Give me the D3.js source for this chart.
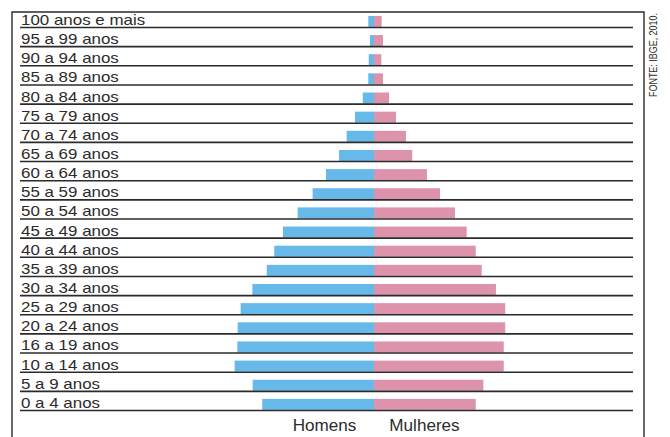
<!DOCTYPE html>
<html>
<head>
<meta charset="utf-8">
<script src="https://cdn.jsdelivr.net/npm/d3@7"></script>
<style>
  html, body { margin: 0; padding: 0; background: #fff; }
  svg { display: block; font-family: "Liberation Sans", Arial, Helvetica, sans-serif; }
</style>
</head>
<body>
<svg id="chart" width="670" height="437"></svg>
<script>
// Faixas etárias, da mais velha (topo) para a mais nova (base)
const faixas = [
  "100 anos e mais", "95 a 99 anos", "90 a 94 anos", "85 a 89 anos",
  "80 a 84 anos", "75 a 79 anos", "70 a 74 anos", "65 a 69 anos",
  "60 a 64 anos", "55 a 59 anos", "50 a 54 anos", "45 a 49 anos",
  "40 a 44 anos", "35 a 39 anos", "30 a 34 anos", "25 a 29 anos",
  "20 a 24 anos", "16 a 19 anos", "10 a 14 anos", "5 a 9 anos", "0 a 4 anos"
];

// População por faixa (mesma ordem)
const homens = [
  0.38, 0.27, 0.35, 0.38, 0.75, 1.27, 1.82, 2.33, 3.20, 4.09, 5.09,
  6.07, 6.65, 7.15, 8.11, 8.89, 9.09, 9.11, 9.29, 8.09, 7.45
];
const mulheres = [
  0.51, 0.60, 0.49, 0.60, 1.00, 1.47, 2.13, 2.55, 3.53, 4.40, 5.40,
  6.18, 6.78, 7.18, 8.13, 8.75, 8.75, 8.65, 8.65, 7.29, 6.78
];

const legendas = ["Homens", "Mulheres"];
const fonte = "FONTE: IBGE, 2010.";

const svg = d3.select("#chart");
const ink = "#2b2b2b";
const corHomens = "#67b9ea";
const corMulheres = "#dd93ac";

const centerX = 374;
const lineLeft = 20, lineRight = 633;
const barH = 11;

// Escalas
const y = d3.scaleBand().domain(faixas).range([8.35, 410.5]).paddingInner(0).paddingOuter(0);
const x = d3.scaleLinear().domain([0, 10]).range([0, 150]);

// Moldura (aberta na base)
svg.append("path")
  .attr("d", `M12,440 L12,12 L644,12 L644,440`)
  .attr("fill", "none")
  .attr("stroke", ink)
  .attr("stroke-width", 1.4);

const rows = svg.append("g").selectAll("g")
  .data(faixas)
  .join("g")
  .attr("transform", d => `translate(0,${y(d) + y.bandwidth()})`);

// Barras masculinas (à esquerda do eixo central)
rows.append("rect")
  .attr("x", (d, i) => centerX - x(homens[i]))
  .attr("y", -barH - 0.6)
  .attr("width", (d, i) => x(homens[i]))
  .attr("height", barH)
  .attr("fill", corHomens);

// Barras femininas (à direita do eixo central)
rows.append("rect")
  .attr("x", centerX)
  .attr("y", -barH - 0.6)
  .attr("width", (d, i) => x(mulheres[i]))
  .attr("height", barH)
  .attr("fill", corMulheres);

// Linha de base de cada faixa
rows.append("line")
  .attr("x1", lineLeft).attr("x2", lineRight)
  .attr("y1", 0).attr("y2", 0)
  .attr("stroke", ink)
  .attr("stroke-width", 1.6);

// Rótulos das faixas
rows.append("text")
  .attr("transform", "translate(21,-2.6) scale(1.21,1)")
  .attr("font-size", 14)
  .attr("fill", ink)
  .text(d => d);

// Legenda inferior
const legX = [324.5, 424.5];
svg.selectAll("text.leg")
  .data(legendas)
  .join("text")
  .attr("class", "leg")
  .attr("transform", (d, i) => `translate(${legX[i]},430.7) scale(1.07,1)`)
  .attr("text-anchor", "middle")
  .attr("font-size", 16)
  .attr("fill", ink)
  .text(d => d);

// Fonte, na vertical à direita
svg.append("text")
  .attr("transform", "translate(657,55) rotate(-90)")
  .attr("text-anchor", "middle")
  .attr("font-size", 10)
  .attr("textLength", 84)
  .attr("lengthAdjust", "spacingAndGlyphs")
  .attr("fill", ink)
  .text(fonte);
</script>
</body>
</html>
